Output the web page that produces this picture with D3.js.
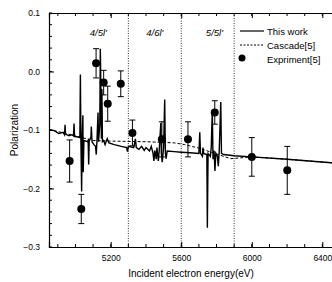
<!DOCTYPE html>
<html>
<head>
<meta charset="utf-8">
<script src="https://cdn.jsdelivr.net/npm/d3@7"></script>
<style>
  body { margin: 0; background: #fff; }
  text { font-family: "Liberation Sans", Arial, sans-serif; }
</style>
</head>
<body>
<div id="container"></div>
<script>
// theory curve ("This work"), energy in eV and polarization
let theoryE = [4850, 4880, 4905, 4930, 4938, 4941, 4944, 4963, 4980, 4989, 4992, 4995,
  5015, 5025, 5028, 5031, 5035, 5038, 5042, 5044, 5048, 5068, 5072, 5075, 5078, 5088,
  5090, 5094, 5105, 5114, 5118, 5122, 5128, 5131, 5138, 5141, 5144, 5147, 5150, 5153,
  5160, 5168, 5180, 5190, 5220, 5260, 5290, 5295, 5300, 5330, 5340, 5345, 5360, 5375,
  5390, 5400, 5420, 5430, 5440, 5445, 5450, 5458, 5462, 5470, 5475, 5484, 5487, 5492,
  5500, 5506, 5510, 5514, 5520, 5560, 5600, 5650, 5700, 5705, 5709, 5720, 5723, 5727,
  5745, 5748, 5752, 5765, 5770, 5776, 5780, 5786, 5791, 5796, 5805, 5810, 5815, 5824,
  5828, 5840, 5900, 6000, 6200, 6450, 6520];
let theoryP = [-0.099, -0.101, -0.106, -0.104, -0.108, -0.091, -0.107, -0.110, -0.108, -0.110, -0.089, -0.111,
  -0.112, -0.113, -0.005, -0.120, -0.205, -0.115, -0.075, -0.172, -0.118, -0.120, -0.118, -0.159, -0.118, -0.112,
  -0.094, -0.120, -0.125, -0.128, -0.142, -0.118, -0.070, -0.120, -0.090, 0.039, -0.025, -0.115, -0.030, -0.120,
  -0.118, -0.125, -0.115, -0.122, -0.125, -0.128, -0.130, -0.137, -0.128, -0.130, -0.115, -0.130, -0.133, -0.128,
  -0.135, -0.130, -0.136, -0.128, -0.140, -0.153, -0.135, -0.150, -0.130, -0.153, -0.135, -0.088, -0.140, -0.155,
  -0.130, -0.048, -0.140, -0.149, -0.136, -0.137, -0.138, -0.139, -0.140, -0.104, -0.140, -0.145, -0.130, -0.140,
  -0.142, -0.267, -0.140, -0.145, -0.130, -0.066, -0.150, -0.135, -0.170, -0.140, -0.145, -0.162, -0.138, -0.052,
  -0.140, -0.142, -0.144, -0.146, -0.150, -0.156, -0.157];

// cascade model (dashed)
let cascadeE = [4850, 5000, 5100, 5200, 5400, 5560, 5620, 5700, 5800, 5880, 6000, 6200, 6450, 6520];
let cascadeP = [-0.099, -0.110, -0.118, -0.119, -0.120, -0.122, -0.125, -0.131, -0.141, -0.149, -0.146, -0.150, -0.156, -0.157];

// experiment points with error bars
let expE = [4967, 5033, 5117, 5160, 5183, 5257, 5323, 5490, 5638, 5790, 6000, 6201];
let expP = [-0.153, -0.235, 0.014, -0.019, -0.055, -0.021, -0.105, -0.116, -0.116, -0.070, -0.146, -0.169];
let expErr = [0.036, 0.025, 0.025, 0.021, 0.030, 0.022, 0.022, 0.030, 0.030, 0.020, 0.033, 0.041];

// dotted separators and their labels
let sepE = [5300, 5600, 5900];
let regionLabels = ["4/5l'", "4/6l'", "5/5l'"];
let regionLabelE = [5130, 5450, 5788];

let yTicks = [0.1, 0.0, -0.1, -0.2, -0.3];
let xTicks = [5200, 5600, 6000, 6400];

let w = 332;
let h = 282;
let padLeft = 49, padTop = 13, padBottom = 247;

let svg = d3.select("#container").append("svg")
    .attr("width", w)
    .attr("height", h);

let xScale = d3.scaleLinear().domain([4850, 6500]).range([padLeft, padLeft + 1650 * 0.17635]);
let yScale = d3.scaleLinear().domain([-0.3, 0.1]).range([padBottom, padTop]);
let padRight = xScale.range()[1];

svg.append("clipPath").attr("id", "plotclip")
  .append("rect").attr("x", padLeft).attr("y", padTop).attr("width", padRight - padLeft).attr("height", padBottom - padTop);

let plot = svg.append("g").attr("clip-path", "url(#plotclip)");

// dotted separators
plot.selectAll(".sep").data(sepE).enter().append("line")
    .attr("x1", d => xScale(d)).attr("x2", d => xScale(d))
    .attr("y1", padTop).attr("y2", padBottom)
    .attr("stroke", "#333").attr("stroke-width", 1)
    .attr("stroke-dasharray", "1,1.5");

let theory = theoryE.map((e, i) => [e, theoryP[i]]);
let cascade = cascadeE.map((e, i) => [e, cascadeP[i]]);
let line = d3.line().x(d => xScale(d[0])).y(d => yScale(d[1]));

plot.append("path").datum(cascade)
    .attr("d", line).attr("fill", "none")
    .attr("stroke", "#000").attr("stroke-width", 1)
    .attr("stroke-dasharray", "3,2");

plot.append("path").datum(theory)
    .attr("d", line).attr("fill", "none")
    .attr("stroke", "#000").attr("stroke-width", 1.4)
    .attr("stroke-linejoin", "miter");

// experiment
let exp = plot.selectAll(".exp").data(expE).enter().append("g").classed("exp", true);
exp.append("line")
    .attr("x1", d => xScale(d)).attr("x2", d => xScale(d))
    .attr("y1", (d, i) => yScale(expP[i] + expErr[i]))
    .attr("y2", (d, i) => yScale(expP[i] - expErr[i]))
    .attr("stroke", "#000").attr("stroke-width", 1);
[1, -1].forEach(s => {
  exp.append("line")
    .attr("x1", d => xScale(d) - 3).attr("x2", d => xScale(d) + 3)
    .attr("y1", (d, i) => yScale(expP[i] + s * expErr[i]))
    .attr("y2", (d, i) => yScale(expP[i] + s * expErr[i]))
    .attr("stroke", "#000").attr("stroke-width", 1);
});
exp.append("circle")
    .attr("cx", d => xScale(d))
    .attr("cy", (d, i) => yScale(expP[i]))
    .attr("r", 4).attr("fill", "#000");

// region labels
svg.selectAll(".reg").data(regionLabels).enter().append("text")
    .attr("x", (d, i) => xScale(regionLabelE[i]))
    .attr("y", 36)
    .attr("text-anchor", "middle")
    .attr("font-size", 9.5)
    .attr("font-style", "italic")
    .text(d => d);

// axes
let minorX = d3.range(4900, 6500, 100);
let minorY = d3.range(-0.3, 0.1001, 0.02);

let xAxis = d3.axisBottom(xScale).tickValues(xTicks).tickSize(-5).tickPadding(8).tickFormat(d3.format("d"));
let xAxisGroup = svg.append("g").attr("transform", "translate(0," + padBottom + ")").call(xAxis);
xAxisGroup.append("g").selectAll("line").data(minorX).enter().append("line")
    .attr("x1", d => xScale(d)).attr("x2", d => xScale(d)).attr("y1", 0).attr("y2", -3)
    .attr("stroke", "#000");

let xTop = d3.axisTop(xScale).tickValues(xTicks).tickSize(-5).tickFormat("");
let xTopGroup = svg.append("g").attr("transform", "translate(0," + padTop + ")").call(xTop);
xTopGroup.append("g").selectAll("line").data(minorX).enter().append("line")
    .attr("x1", d => xScale(d)).attr("x2", d => xScale(d)).attr("y1", 0).attr("y2", 3)
    .attr("stroke", "#000");

let yAxis = d3.axisLeft(yScale).tickValues(yTicks).tickSize(-5).tickPadding(9).tickFormat(d3.format(".1f"));
let yAxisGroup = svg.append("g").attr("transform", "translate(" + padLeft + ",0)").call(yAxis);
yAxisGroup.append("g").selectAll("line").data(minorY).enter().append("line")
    .attr("x1", 0).attr("x2", 3).attr("y1", d => yScale(d)).attr("y2", d => yScale(d))
    .attr("stroke", "#000");

[xAxisGroup, xTopGroup, yAxisGroup].forEach(g => {
  g.selectAll("path").attr("stroke", "#000").attr("stroke-width", 1.2);
  g.selectAll("text").attr("font-size", 8.5).attr("fill", "#000")
    .style("font-family", "Liberation Sans, Arial, sans-serif");
});

// titles
svg.append("text")
    .attr("x", 191).attr("y", 277)
    .attr("text-anchor", "middle").attr("font-size", 10)
    .text("Incident electron energy(eV)");
svg.append("text")
    .attr("transform", "translate(18,130) rotate(-90)")
    .attr("text-anchor", "middle").attr("font-size", 10)
    .text("Polarization");

// legend
let lg = svg.append("g").attr("transform", "translate(240,0)");
lg.append("line").attr("x1", 0).attr("x2", 24).attr("y1", 31).attr("y2", 31)
    .attr("stroke", "#000").attr("stroke-width", 1.2);
lg.append("line").attr("x1", 0).attr("x2", 24).attr("y1", 45).attr("y2", 45)
    .attr("stroke", "#000").attr("stroke-width", 1).attr("stroke-dasharray", "2,1.5");
lg.append("circle").attr("cx", 2).attr("cy", 58).attr("r", 3.5).attr("fill", "#000");
let legendText = ["This work", "Cascade[5]", "Expriment[5]"];
lg.selectAll(".lt").data(legendText).enter().append("text")
    .attr("x", 27).attr("y", (d, i) => 35 + i * 14)
    .attr("font-size", 9.5)
    .text(d => d);
</script>
</body>
</html>
